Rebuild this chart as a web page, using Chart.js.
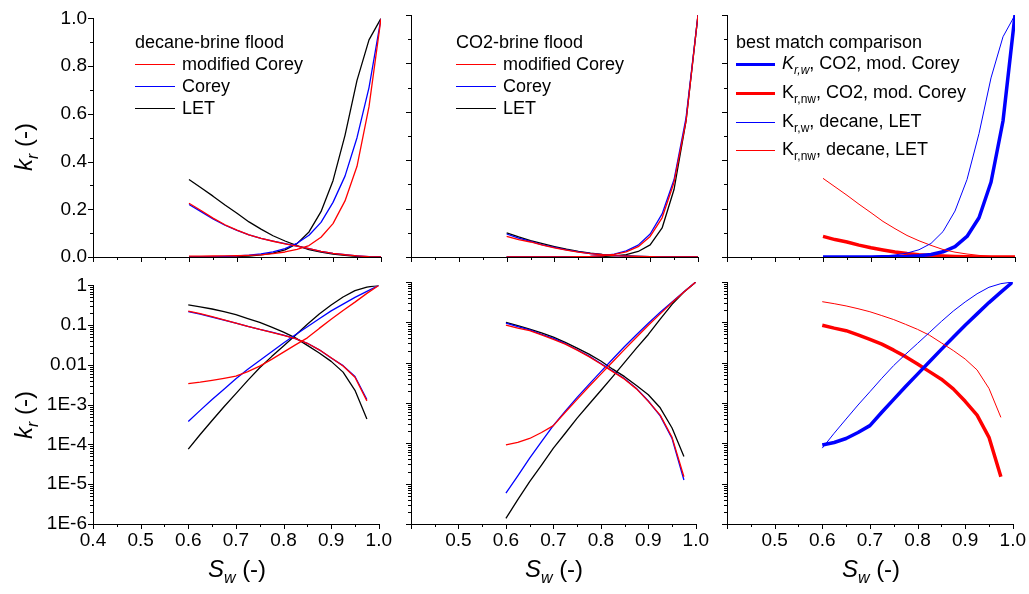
<!DOCTYPE html>
<html><head><meta charset="utf-8">
<script src="https://cdn.jsdelivr.net/npm/chart.js@4.4.1/dist/chart.umd.min.js"></script>
<style>
html,body{margin:0;padding:0;background:#fff;}
#wrap{position:relative;width:1029px;height:594px;overflow:hidden;font-family:"Liberation Sans",Arial,Helvetica,sans-serif;color:#000;}
#wrap canvas{position:absolute;}
.lg{position:absolute;white-space:nowrap;font-size:18px;line-height:20px;height:20px;display:flex;align-items:center;}
.smp{display:inline-block;height:0;border-top-style:solid;margin-right:7px;}
.sb{font-size:12px;position:relative;top:5px;}
.ttl{position:absolute;white-space:nowrap;font-size:24px;line-height:28px;transform:translate(-50%,-50%);}
.ttl.rot{transform:translate(-50%,-50%) rotate(-90deg);}
.ttl .s{font-size:16px;position:relative;top:6px;}
</style></head>
<body><div id="wrap"></div>
<script>
// ---- data ----
const sw = [0.6,0.625,0.65,0.675,0.7,0.725,0.75,0.775,0.8,0.825,0.85,0.875,0.9,0.925,0.95,0.975,1.0];

// decane-brine flood
const decModCoreyKrw  = [0.0034,0.0037,0.0041,0.0046,0.0052,0.0068,0.0093,0.0138,0.021,0.032,0.048,0.083,0.14,0.235,0.38,0.63,1.0];
const decCoreyKrw     = [0.00038,0.00072,0.00135,0.00245,0.0045,0.0078,0.0129,0.0214,0.0355,0.0575,0.091,0.145,0.229,0.339,0.50,0.71,1.0];
const decLetKrw       = [0.000076,0.000178,0.0004,0.00089,0.0019,0.0041,0.0085,0.0162,0.030,0.056,0.105,0.19,0.32,0.51,0.74,0.91,1.0];
const decModCoreyKrnw = [0.225,0.195,0.163,0.135,0.113,0.093,0.078,0.066,0.055,0.046,0.035,0.024,0.0152,0.0094,0.0049,0.00125,0];
const decCoreyKrnw    = [0.22,0.19,0.16,0.133,0.112,0.093,0.078,0.067,0.056,0.046,0.035,0.024,0.015,0.0096,0.0051,0.00135,0];
const decLetKrnw      = [0.325,0.29,0.255,0.218,0.183,0.147,0.117,0.089,0.067,0.048,0.031,0.020,0.0123,0.0066,0.0023,0.00044,0];

// CO2-brine flood
const co2ModCoreyKrw  = [0.000091,0.000105,0.000132,0.000186,0.000275,0.00059,0.00123,0.00257,0.0052,0.0105,0.0214,0.0427,0.085,0.162,0.309,0.562,1.0];
const co2CoreyKrw     = [0.0000058,0.0000155,0.000043,0.00011,0.00028,0.00063,0.00138,0.0029,0.006,0.0123,0.0251,0.049,0.095,0.178,0.32,0.575,1.0];
const co2LetKrw       = [0.00000138,0.000004,0.0000112,0.000029,0.000076,0.000178,0.00042,0.00093,0.00204,0.0045,0.0102,0.0229,0.05,0.12,0.28,0.562,1.0];
const co2ModCoreyKrnw = [0.085,0.072,0.062,0.049,0.038,0.0288,0.0204,0.0141,0.0093,0.006,0.0039,0.00224,0.0011,0.0005,0.000141,0.0000148,0];
const co2CoreyKrnw    = [0.095,0.078,0.065,0.05,0.04,0.0295,0.0209,0.0145,0.0095,0.0062,0.004,0.0023,0.00112,0.00048,0.000132,0.0000123,0];
const co2LetKrnw      = [0.1,0.083,0.068,0.055,0.043,0.032,0.023,0.0163,0.011,0.0069,0.0045,0.0027,0.0016,0.00076,0.00024,0.000047,0];

// axis ticks
const xTickValues  = [0.4,0.5,0.6,0.7,0.8,0.9,1.0];
const xTickLabels  = ['0.4','0.5','0.6','0.7','0.8','0.9','1.0'];
const xMinorValues = [0.45,0.55,0.65,0.75,0.85,0.95];
const linTickValues  = [0,0.2,0.4,0.6,0.8,1.0];
const linTickLabels  = ['0.0','0.2','0.4','0.6','0.8','1.0'];
const linMinorValues = [0.1,0.3,0.5,0.7,0.9];
const logTickValues = [1e-6,1e-5,1e-4,1e-3,1e-2,1e-1,1];
const logTickLabels = ['1E-6','1E-5','1E-4','1E-3','0.01','0.1','1'];
const logMinorMult  = [2,3,4,5,6,7,8,9];

// ---- layout ----
const wrap = document.getElementById('wrap');
const cols = [{x:93,w:288},{x:411,w:287},{x:727,w:288}];
const rows = [{y:15,h:242,log:false},{y:282,h:242,log:true}];
const RED='#ff0000', BLUE='#0000ff', BLACK='#000000';

function logMinor(){
  const out=[];
  for(let i=0;i<logTickValues.length-1;i++) logMinorMult.forEach(m=>out.push(logTickValues[i]*m));
  return out;
}

function makeTickPlugin(t){
  return {
    id:'customTicks',
    afterDraw(chart){
      const ctx=chart.ctx, ca=chart.chartArea, xs=chart.scales.x, ys=chart.scales.y;
      ctx.save(); ctx.strokeStyle='#000'; ctx.lineWidth=1; ctx.beginPath();
      const vx=(vals,len)=>vals.forEach(v=>{const p=Math.round(xs.getPixelForValue(v))+0.5; ctx.moveTo(p,ca.bottom); ctx.lineTo(p,ca.bottom+len);});
      const vy=(vals,len)=>vals.forEach(v=>{const p=Math.round(ys.getPixelForValue(v))+0.5; ctx.moveTo(ca.left,p); ctx.lineTo(ca.left-len,p);});
      vx(t.xMajor,5); vx(t.xMinor,3); vy(t.yMajor,5); vy(t.yMinor,3);
      ctx.stroke(); ctx.restore();
    }
  };
}

function addPanel(ci, ri, series){
  const col=cols[ci], row=rows[ri];
  const padL=62, padT=14, padR=16, padB=46;
  const W=col.w+padL+padR, H=row.h+padT+padB;
  const cv=document.createElement('canvas');
  cv.width=W; cv.height=H; cv.style.width=W+'px'; cv.style.height=H+'px';
  cv.style.left=(col.x-padL)+'px'; cv.style.top=(row.y-padT)+'px';
  wrap.appendChild(cv);
  const tickFont={family:'Liberation Sans', size:19};
  const showX = ri===1, showY = ci===0;
  const yScale = row.log ? {
      type:'logarithmic', min:1e-6, max:1,
      afterBuildTicks:s=>{s.ticks=logTickValues.map(v=>({value:v}));},
      ticks:{display:showY, autoSkip:false, padding:6, color:'#000', font:tickFont, callback:(v,i)=>logTickLabels[i]}
    } : {
      type:'linear', min:0, max:1,
      afterBuildTicks:s=>{s.ticks=linTickValues.map(v=>({value:v}));},
      ticks:{display:showY, autoSkip:false, padding:6, color:'#000', font:tickFont, callback:(v,i)=>linTickLabels[i]}
    };
  Object.assign(yScale,{
    grid:{display:false, drawTicks:false, tickLength:0},
    border:{display:true, color:'#000', width:1},
    afterFit:s=>{s.width=padL;}
  });
  const xScale={
    type:'linear', min:0.4, max:1.0,
    afterBuildTicks:s=>{s.ticks=xTickValues.map(v=>({value:v}));},
    ticks:{display:showX, autoSkip:false, maxRotation:0, padding:5, color:'#000', font:tickFont,
      callback:(v,i)=> (ci>0 && i===0) ? '' : xTickLabels[i]},
    grid:{display:false, drawTicks:false, tickLength:0},
    border:{display:true, color:'#000', width:1},
    afterFit:s=>{s.height=padB;}
  };
  const tp = makeTickPlugin({
    xMajor:xTickValues, xMinor:xMinorValues,
    yMajor: row.log ? logTickValues : linTickValues,
    yMinor: row.log ? logMinor() : linMinorValues
  });
  new Chart(cv,{
    type:'line',
    data:{datasets:series.map(s=>({
      data: sw.map((x,i)=>({x:x, y: row.log ? (s.values[i]>0 ? s.values[i] : null) : s.values[i]})),
      borderColor:s.color, backgroundColor:s.color, borderWidth:s.width,
      pointRadius:0, pointHoverRadius:0, tension:0, fill:false, spanGaps:false,
      borderJoinStyle:'round', borderCapStyle:'butt'
    }))},
    options:{
      responsive:false, animation:false, devicePixelRatio:1, events:[],
      layout:{padding:{left:0, top:padT, right:padR, bottom:0}},
      plugins:{legend:{display:false}, tooltip:{enabled:false}},
      scales:{x:xScale, y:yScale}
    },
    plugins:[tp]
  });
}

const W1=1.3;
const panel1 = [
  {values:decModCoreyKrw, color:RED, width:W1},
  {values:decModCoreyKrnw, color:RED, width:W1},
  {values:decCoreyKrw, color:BLUE, width:W1},
  {values:decCoreyKrnw, color:BLUE, width:W1},
  {values:decLetKrw, color:BLACK, width:W1},
  {values:decLetKrnw, color:BLACK, width:W1}
];
const panel2 = [
  {values:co2ModCoreyKrw, color:RED, width:W1},
  {values:co2ModCoreyKrnw, color:RED, width:W1},
  {values:co2CoreyKrw, color:BLUE, width:W1},
  {values:co2CoreyKrnw, color:BLUE, width:W1},
  {values:co2LetKrw, color:BLACK, width:W1},
  {values:co2LetKrnw, color:BLACK, width:W1}
];
const panel3 = [
  {values:decLetKrw, color:BLUE, width:1},
  {values:decLetKrnw, color:RED, width:1},
  {values:co2ModCoreyKrw, color:BLUE, width:3.5},
  {values:co2ModCoreyKrnw, color:RED, width:3.5}
];
[panel1,panel2,panel3].forEach((p,ci)=>{ addPanel(ci,0,p); addPanel(ci,1,p); });

// ---- legends & titles (HTML text) ----
function el(html, cls, style){
  const d=document.createElement('div'); d.className=cls; d.innerHTML=html;
  Object.assign(d.style, style); wrap.appendChild(d); return d;
}
function sample(color,w,len){ return `<span class="smp" style="width:${len}px;border-top-width:${w}px;border-top-color:${color}"></span>`; }

const legendTitles = ['decane-brine flood','CO2-brine flood','best match comparison'];
const legendX = [135,456,736];
const simpleItems = [['modified Corey',RED],['Corey',BLUE],['LET',BLACK]];
[0,1].forEach(ci=>{
  el(legendTitles[ci],'lg',{left:legendX[ci]+'px', top:(42-10)+'px'});
  simpleItems.forEach((it,k)=>{
    el(sample(it[1],1.5,40)+'<span>'+it[0]+'</span>','lg',{left:legendX[ci]+'px', top:(64+22*k-10)+'px'});
  });
});
el(legendTitles[2],'lg',{left:legendX[2]+'px', top:(42-10)+'px'});
const p3Items = [
  ['<i>K</i><span class="sb"><i>r,w</i></span>, CO2, mod. Corey', BLUE, 3.5],
  ['K<span class="sb">r,nw</span>, CO2, mod. Corey', RED, 3.5],
  ['K<span class="sb">r,w</span>, decane, LET', BLUE, 1],
  ['K<span class="sb">r,nw</span>, decane, LET', RED, 1]
];
const p3Y=[64,93,122,150];
p3Items.forEach((it,k)=>{
  el(sample(it[1],it[2],39)+'<span>'+it[0]+'</span>','lg',{left:legendX[2]+'px', top:(p3Y[k]-10)+'px'});
});

const kr = '<i>k</i><span class="s"><i>r</i></span> (-)';
el(kr,'ttl rot',{left:'25px', top:'147px'});
el(kr,'ttl rot',{left:'25px', top:'415px'});
const swT = '<i>S</i><span class="s"><i>w</i></span> (-)';
[237,554,871].forEach(cx=> el(swT,'ttl',{left:cx+'px', top:'570px'}));
</script></body></html>
